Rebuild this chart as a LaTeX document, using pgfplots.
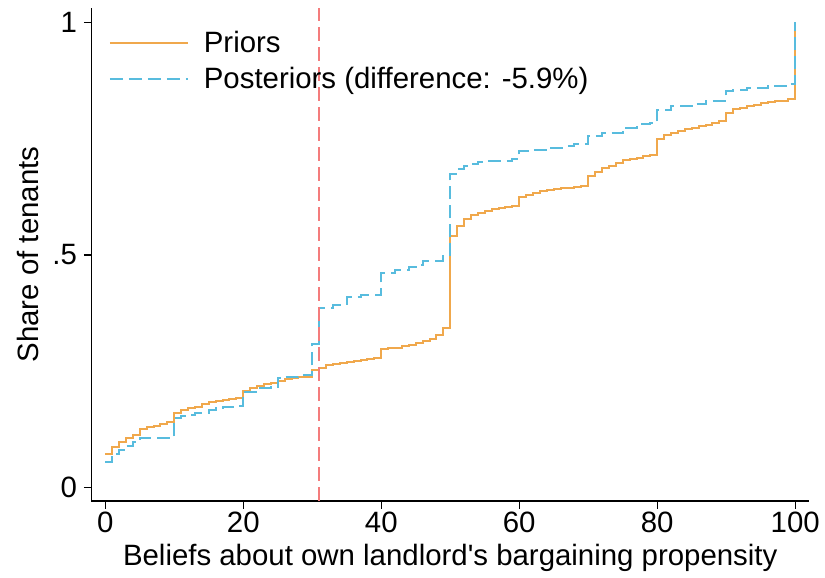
\documentclass[border=0pt]{standalone}
\usepackage{fontspec}
\setmainfont{Liberation Sans}
\usepackage{pgfplots}
\pgfplotsset{compat=1.18}
\definecolor{priorc}{RGB}{240,168,76}
\definecolor{postc}{RGB}{88,188,222}
\definecolor{refc}{RGB}{244,124,124}

\begin{document}
\begin{tikzpicture}
\begin{axis}[
    scale only axis,
    width=358.75bp, height=246.5bp,
    xmin=-2.0, xmax=102, ymin=-0.029, ymax=1.031,
    axis lines*=left,
    axis line style={black, line width=0.6bp},
    tick align=outside,
    major tick length=3.75bp,
    tick style={black, line width=0.6bp},
    xtick={0,20,40,60,80,100},
    xticklabels={0,20,40,60,80,100},
    ytick={0,0.5,1},
    yticklabels={0,.5,1},
    xticklabel style={yshift=2bp},
    font=\fontsize{14.7bp}{17bp}\selectfont,
    xlabel={Beliefs about own landlord\textquotesingle s bargaining propensity},
    ylabel={Share of tenants},
    xlabel style={at={(axis description cs:0.5,0)}, anchor=base, yshift=-32bp},
    ylabel style={at={(axis description cs:-0.0885,0.5)}, anchor=center},
    legend style={at={(axis description cs:0,1)}, anchor=north west,
        xshift=5.5bp, yshift=-7.25bp,
        draw=none, fill=none, row sep=2bp,
        font=\fontsize{14.7bp}{17bp}\selectfont},
    legend cell align=left,
    legend image code/.code={\draw[#1] (0bp,0bp) -- (39bp,0bp); \path (44.5bp,0bp);},
    clip=false,
]
\addplot[const plot, color=priorc, line width=1bp] coordinates {
(0,0.071) (1,0.088) (2,0.097) (3,0.106) (4,0.113) (5,0.126) (6,0.130) (7,0.133)
(8,0.136) (9,0.140) (10,0.161) (11,0.167) (12,0.170) (13,0.174) (14,0.179)
(15,0.183) (16,0.186) (17,0.188) (18,0.191) (19,0.192) (20,0.208) (21,0.213)
(22,0.218) (23,0.222) (24,0.224) (25,0.230) (26,0.233) (27,0.235) (28,0.237)
(29,0.238) (30,0.253) (31,0.256) (32,0.263) (33,0.265) (34,0.268) (35,0.270)
(36,0.272) (37,0.274) (38,0.276) (39,0.278) (40,0.297) (41,0.299) (42,0.301)
(43,0.304) (44,0.307) (45,0.310) (46,0.314) (47,0.320) (48,0.328) (49,0.342)
(50,0.540) (51,0.563) (52,0.577) (53,0.585) (54,0.590) (55,0.594) (56,0.599)
(57,0.601) (58,0.604) (59,0.605) (60,0.624) (61,0.630) (62,0.633) (63,0.638)
(64,0.640) (65,0.642) (66,0.644) (67,0.645) (68,0.647) (69,0.649) (70,0.670)
(71,0.679) (72,0.687) (73,0.692) (74,0.698) (75,0.704) (76,0.707) (77,0.709)
(78,0.712) (79,0.714) (80,0.749) (81,0.759) (82,0.763) (83,0.767) (84,0.770)
(85,0.773) (86,0.777) (87,0.780) (88,0.784) (89,0.787) (90,0.806) (91,0.813)
(92,0.816) (93,0.820) (94,0.823) (95,0.827) (96,0.829) (97,0.830) (98,0.832)
(99,0.836) (100,1.0)
};
\addlegendentry{Priors}
\addplot[const plot, color=postc, line width=1bp, dash pattern=on 6.5bp off 3bp] coordinates {
(0,0.054) (1,0.071) (2,0.081) (3,0.090) (4,0.097) (5,0.106) (10,0.149)
(11,0.153) (12,0.156) (13,0.160) (15,0.167) (16,0.171) (17,0.173) (19,0.175)
(20,0.206) (22,0.213) (24,0.216) (25,0.236) (26,0.238) (28,0.242) (30,0.308)
(31,0.385) (33,0.392) (35,0.410) (37,0.413) (40,0.461) (42,0.467) (44,0.474)
(45,0.478) (46,0.488) (49,0.499) (50,0.674) (51,0.685) (52,0.692) (53,0.695)
(54,0.699) (55,0.702) (59,0.706) (60,0.724) (62,0.726) (64,0.731) (67,0.734)
(68,0.738) (70,0.756) (72,0.763) (75,0.774) (77,0.781) (79,0.784) (80,0.811)
(82,0.820) (85,0.825) (87,0.831) (90,0.852) (91,0.854) (93,0.859) (96,0.863)
(99,0.868) (100,1.0)
};
\addlegendentry{Posteriors (difference: -5.9\%)}
\addplot[color=refc, line width=1bp, dash pattern=on 7bp off 3bp, forget plot] coordinates {
(31,-0.029) (31,1.031)
};
\coordinate (sw) at (rel axis cs:0,0);
\end{axis}
\pgfresetboundingbox
\path (sw) ++(-45.75bp,-38.5bp) rectangle ++(412.5bp,289bp);
\end{tikzpicture}
\end{document}
